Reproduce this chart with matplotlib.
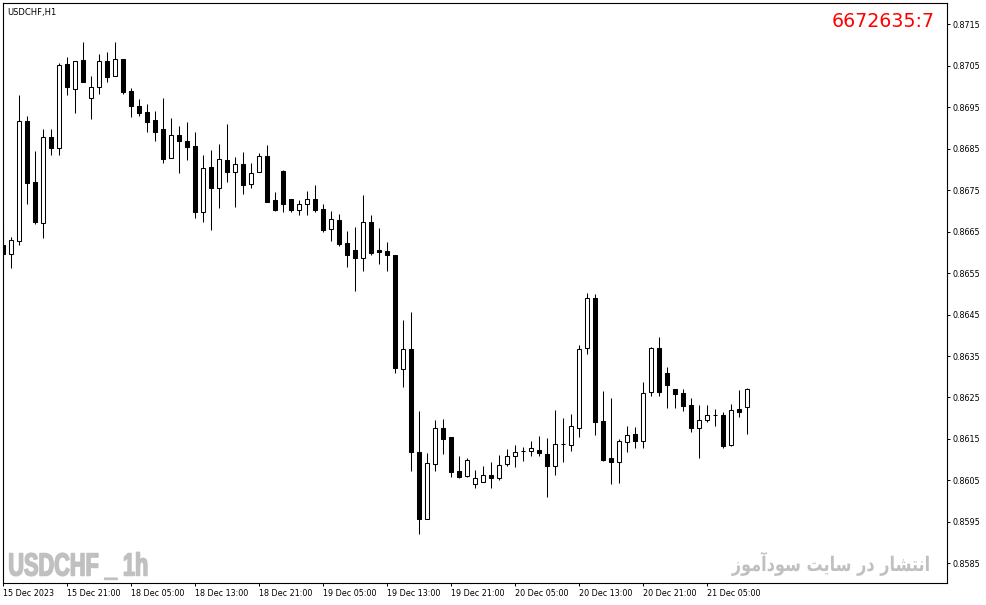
import matplotlib
matplotlib.use("Agg")
import matplotlib.pyplot as plt
from matplotlib.patheffects import AbstractPathEffect
from matplotlib.transforms import Affine2D

# USDCHF H1 candles, first bar 15 Dec 2023 13:00
opens = [0.86618, 0.86595, 0.86628, 0.86916, 0.86769, 0.86671, 0.86878, 0.86851, 0.87054, 0.86994,
         0.87063, 0.86971, 0.86999, 0.87061, 0.87024, 0.87066, 0.86989, 0.86953, 0.86937, 0.86919,
         0.86896, 0.86827, 0.86883, 0.86868, 0.86856, 0.86698, 0.86806, 0.86754, 0.86822, 0.86793,
         0.86813, 0.86764, 0.86793, 0.86832, 0.86726, 0.86796, 0.86728, 0.86703, 0.86716, 0.86728,
         0.86704, 0.86657, 0.86678, 0.86622, 0.86606, 0.86587, 0.86673, 0.86606, 0.86602, 0.86593,
         0.86318, 0.86367, 0.86119, 0.85958, 0.86089, 0.86176, 0.86155, 0.86073, 0.86062, 0.86042,
         0.86046, 0.86063, 0.86057, 0.86089, 0.86108, 0.86120, 0.86120, 0.86123, 0.86113, 0.86086,
         0.86137, 0.86135, 0.86177, 0.86369, 0.86489, 0.86193, 0.86104, 0.86095, 0.86142, 0.86161,
         0.86144, 0.86263, 0.86369, 0.86309, 0.86270, 0.86261, 0.86232, 0.86177, 0.86195, 0.86207,
         0.86207, 0.86136, 0.86222, 0.86226]
highs = [0.86671, 0.86638, 0.86979, 0.86928, 0.86844, 0.86897, 0.86897, 0.87055, 0.87071, 0.87061,
         0.87107, 0.87025, 0.87078, 0.87083, 0.87107, 0.87066, 0.86996, 0.86969, 0.86957, 0.86941,
         0.86972, 0.86923, 0.86904, 0.86913, 0.86889, 0.86834, 0.86847, 0.86861, 0.86909, 0.86830,
         0.86842, 0.86816, 0.86839, 0.86859, 0.86745, 0.86798, 0.86728, 0.86726, 0.86748, 0.86763,
         0.86716, 0.86700, 0.86692, 0.86651, 0.86660, 0.86738, 0.86690, 0.86658, 0.86625, 0.86593,
         0.86437, 0.86456, 0.86218, 0.86116, 0.86196, 0.86198, 0.86155, 0.86109, 0.86104, 0.86075,
         0.86084, 0.86095, 0.86111, 0.86126, 0.86136, 0.86130, 0.86145, 0.86157, 0.86152, 0.86220,
         0.86201, 0.86210, 0.86376, 0.86502, 0.86499, 0.86266, 0.86249, 0.86150, 0.86181, 0.86179,
         0.86287, 0.86372, 0.86396, 0.86324, 0.86270, 0.86270, 0.86248, 0.86232, 0.86232, 0.86222,
         0.86216, 0.86234, 0.86268, 0.86272]
lows = [0.86591, 0.86563, 0.86618, 0.86716, 0.86668, 0.86635, 0.86834, 0.86834, 0.86979, 0.86936,
        0.87011, 0.86922, 0.86981, 0.87011, 0.87024, 0.86982, 0.86926, 0.86929, 0.86891, 0.86867,
        0.86814, 0.86827, 0.86790, 0.86822, 0.86683, 0.86672, 0.86654, 0.86707, 0.86770, 0.86710,
        0.86741, 0.86756, 0.86793, 0.86722, 0.86699, 0.86698, 0.86698, 0.86691, 0.86691, 0.86697,
        0.86650, 0.86628, 0.86616, 0.86565, 0.86507, 0.86556, 0.86593, 0.86572, 0.86556, 0.86310,
        0.86276, 0.86074, 0.85921, 0.85958, 0.86074, 0.86115, 0.86059, 0.86057, 0.86059, 0.86033,
        0.86046, 0.86033, 0.86050, 0.86086, 0.86083, 0.86098, 0.86110, 0.86110, 0.86009, 0.86063,
        0.86095, 0.86122, 0.86156, 0.86356, 0.86160, 0.86098, 0.86042, 0.86045, 0.86119, 0.86128,
        0.86128, 0.86254, 0.86254, 0.86225, 0.86225, 0.86218, 0.86168, 0.86105, 0.86190, 0.86182,
        0.86128, 0.86134, 0.86203, 0.86161]
closes = [0.86596, 0.86629, 0.86916, 0.86768, 0.86672, 0.86878, 0.86851, 0.87051, 0.86999, 0.87061,
          0.87011, 0.86998, 0.87061, 0.87023, 0.87066, 0.86987, 0.86953, 0.86936, 0.86915, 0.86891,
          0.86826, 0.86883, 0.86867, 0.86854, 0.86698, 0.86802, 0.86754, 0.86824, 0.86794, 0.86813,
          0.86763, 0.86790, 0.86832, 0.86722, 0.86702, 0.86716, 0.86702, 0.86716, 0.86728, 0.86702,
          0.86654, 0.86680, 0.86620, 0.86594, 0.86587, 0.86673, 0.86598, 0.86601, 0.86594, 0.86320,
          0.86367, 0.86119, 0.85958, 0.86091, 0.86176, 0.86151, 0.86071, 0.86059, 0.86099, 0.86055,
          0.86063, 0.86057, 0.86087, 0.86108, 0.86118, 0.86122, 0.86128, 0.86117, 0.86086, 0.86137,
          0.86138, 0.86181, 0.86366, 0.86489, 0.86192, 0.86100, 0.86095, 0.86146, 0.86159, 0.86144,
          0.86260, 0.86369, 0.86263, 0.86281, 0.86259, 0.86230, 0.86177, 0.86195, 0.86207, 0.86208,
          0.86134, 0.86219, 0.86216, 0.86270]

time_labels = ["15 Dec 2023", "15 Dec 21:00", "18 Dec 05:00", "18 Dec 13:00", "18 Dec 21:00",
               "19 Dec 05:00", "19 Dec 13:00", "19 Dec 21:00", "20 Dec 05:00", "20 Dec 13:00",
               "20 Dec 21:00", "21 Dec 05:00"]
label_every = 8
price_ticks = [0.8585, 0.8595, 0.8605, 0.8615, 0.8625, 0.8635, 0.8645, 0.8655,
               0.8665, 0.8675, 0.8685, 0.8695, 0.8705, 0.8715]

# "انتشار در سایت سودآموز" in shaped presentation forms, visual order
site_text = ("\uFEAF\uFEEE\uFEE3\uFE81\uFEA9\uFEEE\uFEB3 "
             "\uFE96\uFEF3\uFE8E\uFEB3 "
             "\uFEAD\uFEA9 "
             "\uFEAD\uFE8E\uFEB8\uFE98\uFEE7\uFE8D")


class Squeeze(AbstractPathEffect):
    """squash glyphs horizontally around x0 (pixels), optionally fattened with a stroke"""
    def __init__(self, sx, x0, lw=0.0):
        super().__init__()
        self.sx = sx
        self.x0 = x0
        self.lw = lw

    def draw_path(self, renderer, gc, tpath, affine, rgbFace=None):
        sq = Affine2D().translate(-self.x0, 0).scale(self.sx, 1).translate(self.x0, 0)
        gc0 = renderer.new_gc()
        gc0.copy_properties(gc)
        if self.lw:
            gc0.set_linewidth(self.lw)
            gc0.set_foreground(rgbFace)
        renderer.draw_path(gc0, tpath, affine + sq, rgbFace)
        gc0.restore()


W, H = 987, 605
fig = plt.figure(figsize=(W / 100, H / 100), dpi=100)
ax = fig.add_axes([2.7 / W, 1 - 583.3 / H, 944 / W, 580.6 / H])

xs = list(range(len(opens)))
ax.vlines(xs, lows, highs, color="black", linewidth=0.75, zorder=1)
bottoms = [min(o, c) for o, c in zip(opens, closes)]
heights = [max(abs(c - o), 0.000004) for o, c in zip(opens, closes)]
faces = ["white" if c > o else "black" for o, c in zip(opens, closes)]
ax.bar(xs, heights, bottom=bottoms, width=0.5, color=faces, edgecolor="black",
       linewidth=0.75, zorder=2)

ax.set_xlim(-0.075, 117.925)
ax.set_ylim(0.858022, 0.872015)

ax.yaxis.tick_right()
ax.set_yticks(price_ticks)
ax.set_yticklabels([f"{p:.4f}" for p in price_ticks])
ax.set_xticks(xs[::label_every][:len(time_labels)])
ax.set_xticklabels(time_labels, ha="left")
ax.tick_params(axis="both", direction="out", length=2.2, width=0.7, labelsize=5.8,
               colors="black", pad=2)
for s in ax.spines.values():
    s.set_linewidth(0.8)
    s.set_color("black")

fig.text(7 / W, 1 - 15 / H, "USDCHF,H1", fontsize=6, va="baseline")
fig.text(935 / W, 1 - 26.7 / H, "6672635:7", fontsize=13.7, color="red",
         ha="right", va="baseline")
fig.text(8.3 / W, 1 - 575.5 / H, "USDCHF _ 1h", fontsize=23, fontweight="bold",
         family="Liberation Sans", color="#c0c0c0", va="baseline",
         path_effects=[Squeeze(0.68, 8.3, lw=1.1)])
fig.text(930.7 / W, 1 - 571 / H, site_text, fontsize=14.5, fontweight="bold",
         family="DejaVu Sans", color="#c0c0c0", ha="right", va="baseline",
         path_effects=[Squeeze(0.8, 930.7)])

plt.savefig("out.png", dpi=100)
